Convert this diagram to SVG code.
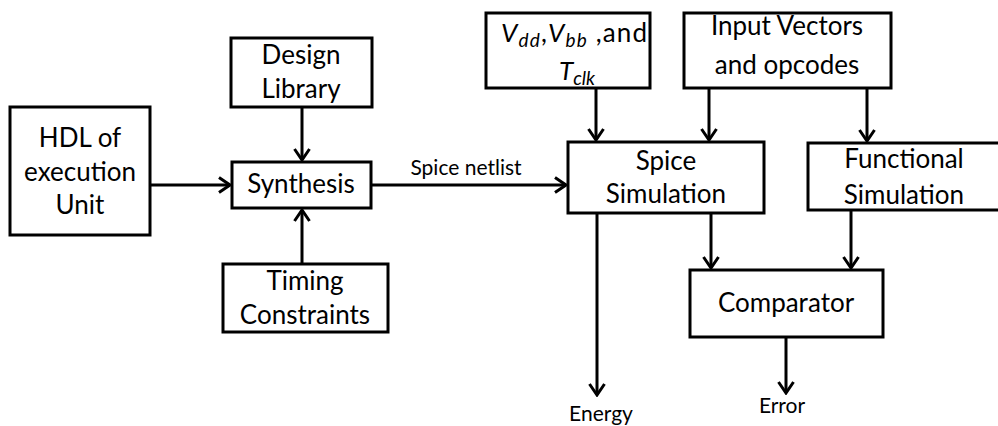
<svg xmlns="http://www.w3.org/2000/svg" width="998" height="426" viewBox="0 0 998 426">
<style>
.box{fill:#fff;stroke:#000;stroke-width:3}
.t{font-family:Lato,"Liberation Sans",sans-serif;font-size:26px;fill:#000;text-anchor:middle}
.s{font-family:Lato,"Liberation Sans",sans-serif;font-size:21px;fill:#000;text-anchor:middle}
.c{fill:none;stroke:#000;stroke-width:3}
</style>
<defs>
<marker id="ah" markerUnits="userSpaceOnUse" viewBox="-14 -10 16 20" refX="0" refY="0" markerWidth="16" markerHeight="20" orient="auto">
<path d="M-11,-7.5 L0,0 L-11,7.5" fill="none" stroke="#000" stroke-width="3"/>
</marker>
</defs>
<rect width="998" height="426" fill="#fff"/>
<g id="connectors">
<line class="c" x1="150" y1="185" x2="230" y2="185" marker-end="url(#ah)"/>
<line class="c" x1="302" y1="107" x2="302" y2="160" marker-end="url(#ah)"/>
<line class="c" x1="302" y1="264" x2="302" y2="210" marker-end="url(#ah)"/>
<line class="c" x1="371" y1="185" x2="566" y2="185" marker-end="url(#ah)"/>
<line class="c" x1="596" y1="88" x2="596" y2="140" marker-end="url(#ah)"/>
<line class="c" x1="709" y1="88" x2="709" y2="140" marker-end="url(#ah)"/>
<line class="c" x1="867" y1="88" x2="867" y2="141" marker-end="url(#ah)"/>
<line class="c" x1="597" y1="213" x2="597" y2="395" marker-end="url(#ah)"/>
<line class="c" x1="711" y1="213" x2="711" y2="268" marker-end="url(#ah)"/>
<line class="c" x1="851" y1="210" x2="851" y2="268" marker-end="url(#ah)"/>
<line class="c" x1="786" y1="337" x2="786" y2="393" marker-end="url(#ah)"/>
<text class="s" x="466" y="175">Spice netlist</text>
<text class="s" x="601" y="421">Energy</text>
<text class="s" x="782" y="413">Error</text>
</g>
<g id="hdl">
<rect class="box" x="10" y="107" width="140" height="128"/>
<text class="t" x="80" y="147">HDL of</text>
<text class="t" x="80" y="181">execution</text>
<text class="t" x="80" y="214">Unit</text>
</g>
<g id="design-library">
<rect class="box" x="231" y="38" width="141" height="69"/>
<text class="t" x="301" y="64">Design</text>
<text class="t" x="301" y="98">Library</text>
</g>
<g id="synthesis">
<rect class="box" x="232" y="162" width="139" height="46"/>
<text class="t" x="301" y="193">Synthesis</text>
</g>
<g id="timing-constraints">
<rect class="box" x="223" y="264" width="165" height="68"/>
<text class="t" x="305" y="290">Timing</text>
<text class="t" x="305" y="324">Constraints</text>
</g>
<g id="vdd">
<rect class="box" x="486" y="13" width="164" height="75"/>
<text class="t" x="574" y="42" textLength="146" lengthAdjust="spacing"><tspan font-style="italic">V</tspan><tspan font-style="italic" font-size="19" dy="5">dd</tspan><tspan dy="-5">,</tspan><tspan font-style="italic">V</tspan><tspan font-style="italic" font-size="19" dy="5">bb</tspan><tspan dy="-5"> ,and</tspan></text>
<text class="t" x="577" y="80"><tspan font-style="italic">T</tspan><tspan font-style="italic" font-size="19" dy="5">clk</tspan></text>
</g>
<g id="input-vectors">
<rect class="box" x="684" y="13" width="207" height="75"/>
<text class="t" x="787" y="35">Input Vectors</text>
<text class="t" x="787" y="74">and opcodes</text>
</g>
<g id="spice-simulation">
<rect class="box" x="568" y="142" width="196" height="71"/>
<text class="t" x="666" y="170">Spice</text>
<text class="t" x="666" y="203">Simulation</text>
</g>
<g id="functional-simulation">
<rect class="box" x="808" y="143" width="200" height="67"/>
<text class="t" x="904" y="168">Functional</text>
<text class="t" x="904" y="204">Simulation</text>
</g>
<g id="comparator">
<rect class="box" x="690" y="270" width="193" height="67"/>
<text class="t" x="786" y="312">Comparator</text>
</g>
</svg>
